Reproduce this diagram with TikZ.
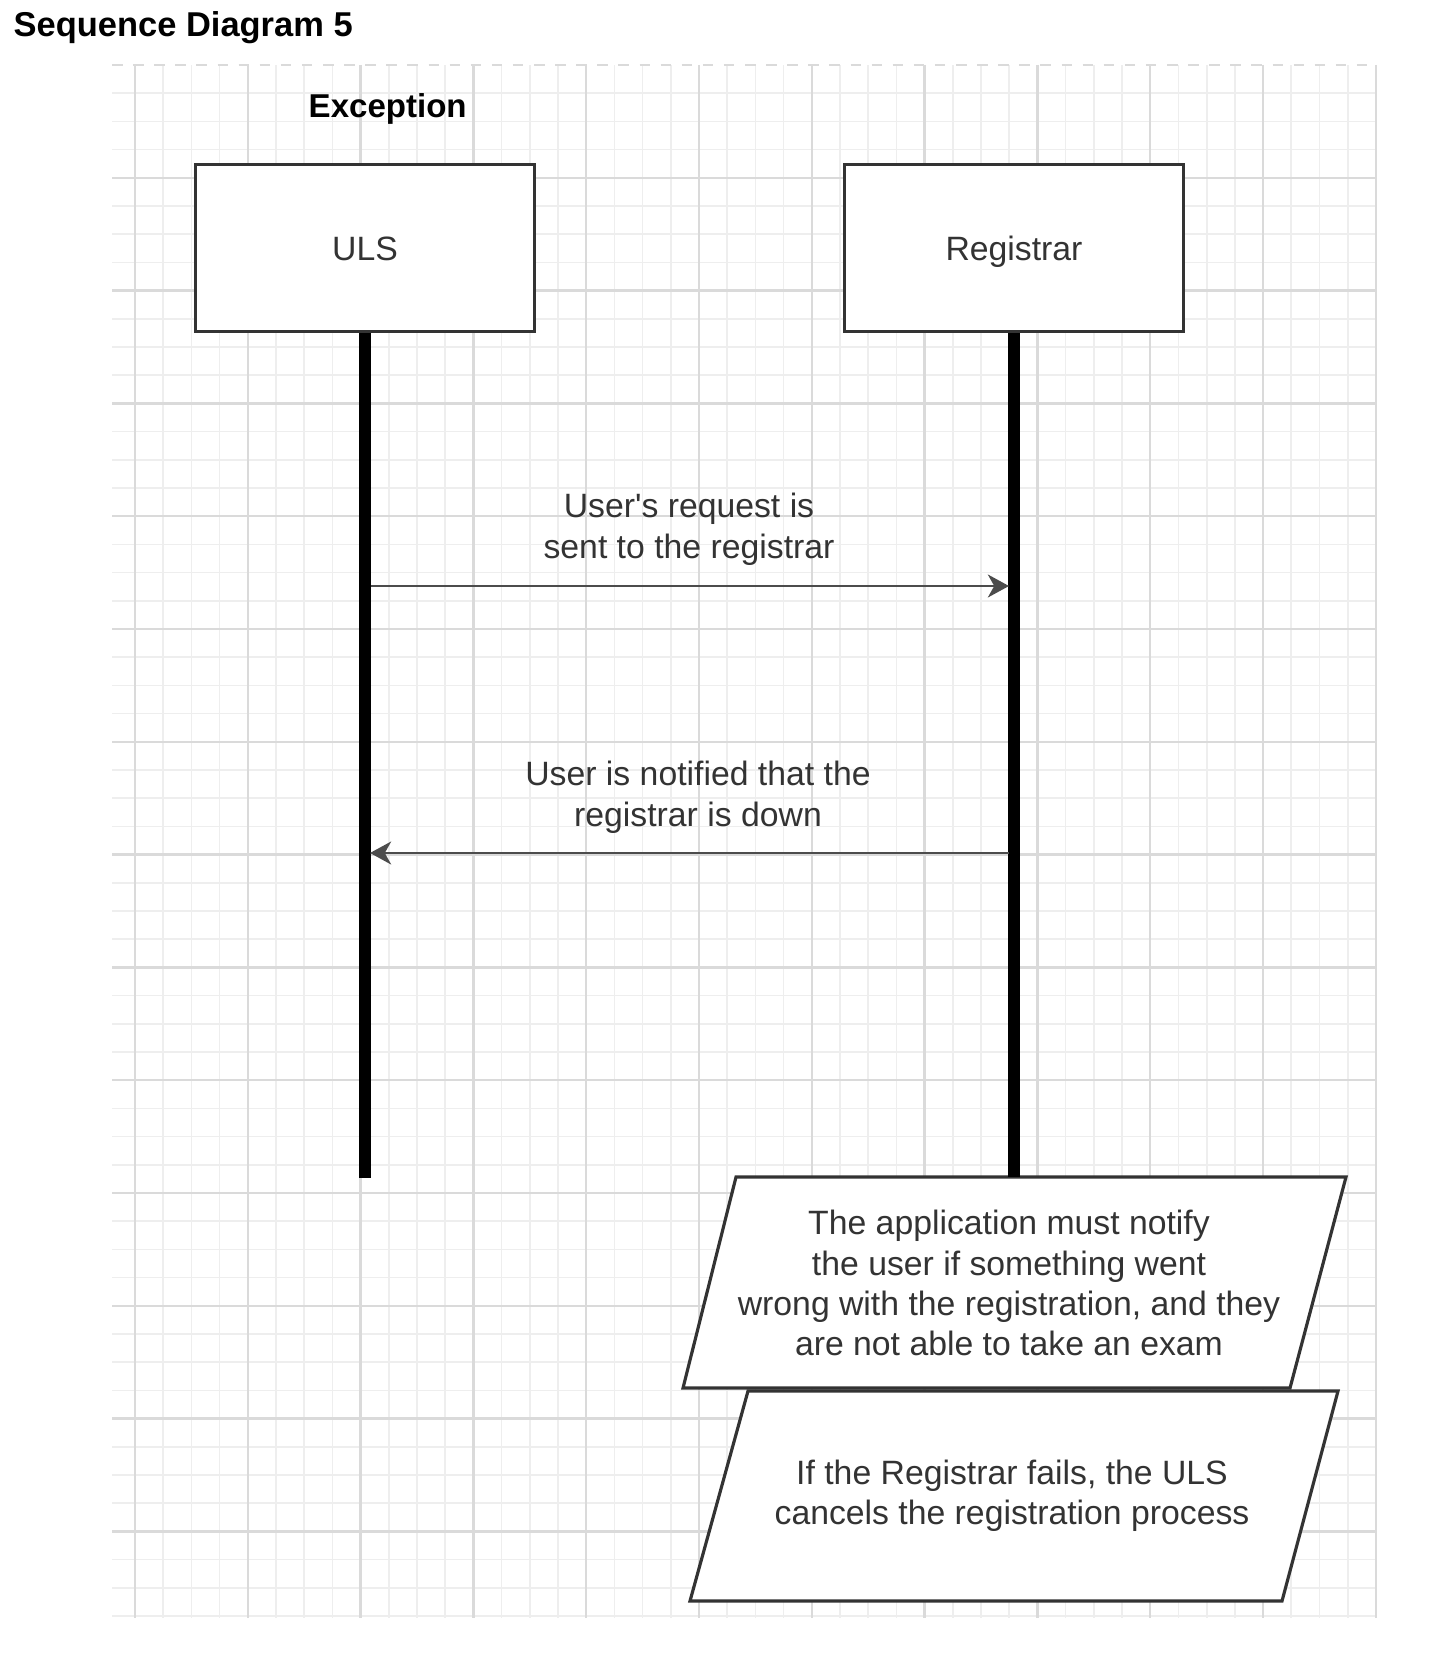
\documentclass[tikz,border=0pt]{standalone}
\usepackage{fontspec}
\setmainfont{Liberation Sans}
\usepackage{tikz}
\usetikzlibrary{arrows.meta}
\definecolor{grid_minor}{RGB}{238, 238, 238}
\definecolor{grid_major}{RGB}{218, 218, 218}
\definecolor{ink}{RGB}{51, 51, 51}
\tikzstyle{minor}=[draw=grid_minor,line width=0.5pt]
\tikzstyle{major}=[draw=grid_major,line width=0.7pt]
\tikzstyle{actor}=[rectangle,fill=white,draw=ink,line width=0.9pt,text=ink,
  minimum width=3.38cm,minimum height=1.67cm,text height=1.6ex,text depth=0.3ex,
  font=\fontsize{9.6}{11.7}\selectfont]
\tikzstyle{life}=[line width=3.2pt,black]
\tikzstyle{msg}=[draw=black!70,line width=0.8pt,-{Stealth[length=6pt,width=6.5pt,inset=1.8pt]}]
\tikzstyle{lbl}=[align=center,text=ink,inner sep=0pt,font=\fontsize{9.6}{11.7}\selectfont]
\tikzstyle{slant}=[fill=white,draw=ink,line width=0.9pt,line join=miter]
\tikzstyle{note}=[rectangle,align=center,text=ink,inner sep=0pt,minimum height=2.11cm,
  font=\fontsize{9.6}{11.4}\selectfont]
\tikzstyle{head}=[anchor=base west,inner sep=0pt,font=\fontsize{9.8}{11.7}\bfseries\selectfont]
\tikzstyle{frame}=[style=head,font=\fontsize{9.4}{11.7}\bfseries\selectfont]
\tikzstyle{none}=[]

\begin{document}
\begin{tikzpicture}[x=0.01cm,y=-0.01cm]
  \useasboundingbox (0,0) rectangle (1445,1655);
  % grid paper
  \foreach \k in {0,...,44} \draw [style=minor] ({135+28.2*\k},65) -- ({135+28.2*\k},1618);
  \foreach \k in {1,...,55} \draw [style=minor] (112,{65+28.2*\k}) -- (1377,{65+28.2*\k});
  \foreach \k in {0,...,11} \draw [style=major] ({135+112.8*\k},65) -- ({135+112.8*\k},1618);
  \foreach \k in {1,...,13} \draw [style=major] (112,{65+112.8*\k}) -- (1377,{65+112.8*\k});
  \draw [style=major,dashed] (112,65) -- (1377,65);

  % the two notes
  \draw [style=slant] (736, 1177) -- (1346, 1177) -- (1290, 1388) -- (683, 1388) -- cycle;
  \draw [style=slant] (748, 1391) -- (1338, 1391) -- (1282, 1601) -- (690, 1601) -- cycle;

  \node [style=head] (0) at (13, 37) {Sequence Diagram 5};
  \node [style=frame] (1) at (308, 118) {Exception};
  \node [style=actor] (2) at (365, 248) {ULS};
  \node [style=actor] (3) at (1014, 248) {Registrar};
  \node [style=note] (4) at (1009, 1283) {The application must notify\\the user if something went\\wrong with the registration, and they\\are not able to take an exam};
  \node [style=note] (5) at (1012, 1496) {If the Registrar fails, the ULS\\cancels the registration process};
  \coordinate (6) at (365, 1178);
  \coordinate (7) at (371, 586);
  \coordinate (8) at (1009, 586);
  \coordinate (9) at (1009, 853);
  \coordinate (10) at (370, 853);
  \node [style=lbl] (11) at (689, 529) {User\textquotesingle s request is\\sent to the registrar};
  \node [style=lbl] (12) at (698, 797) {User is notified that the\\registrar is down};
  \draw [style=life] (2) to (6);
  \draw [style=life] (3) to (3 |- 4.north);
  \draw [style=msg] (7) to (8);
  \draw [style=msg] (9) to (10);
\end{tikzpicture}
\end{document}
